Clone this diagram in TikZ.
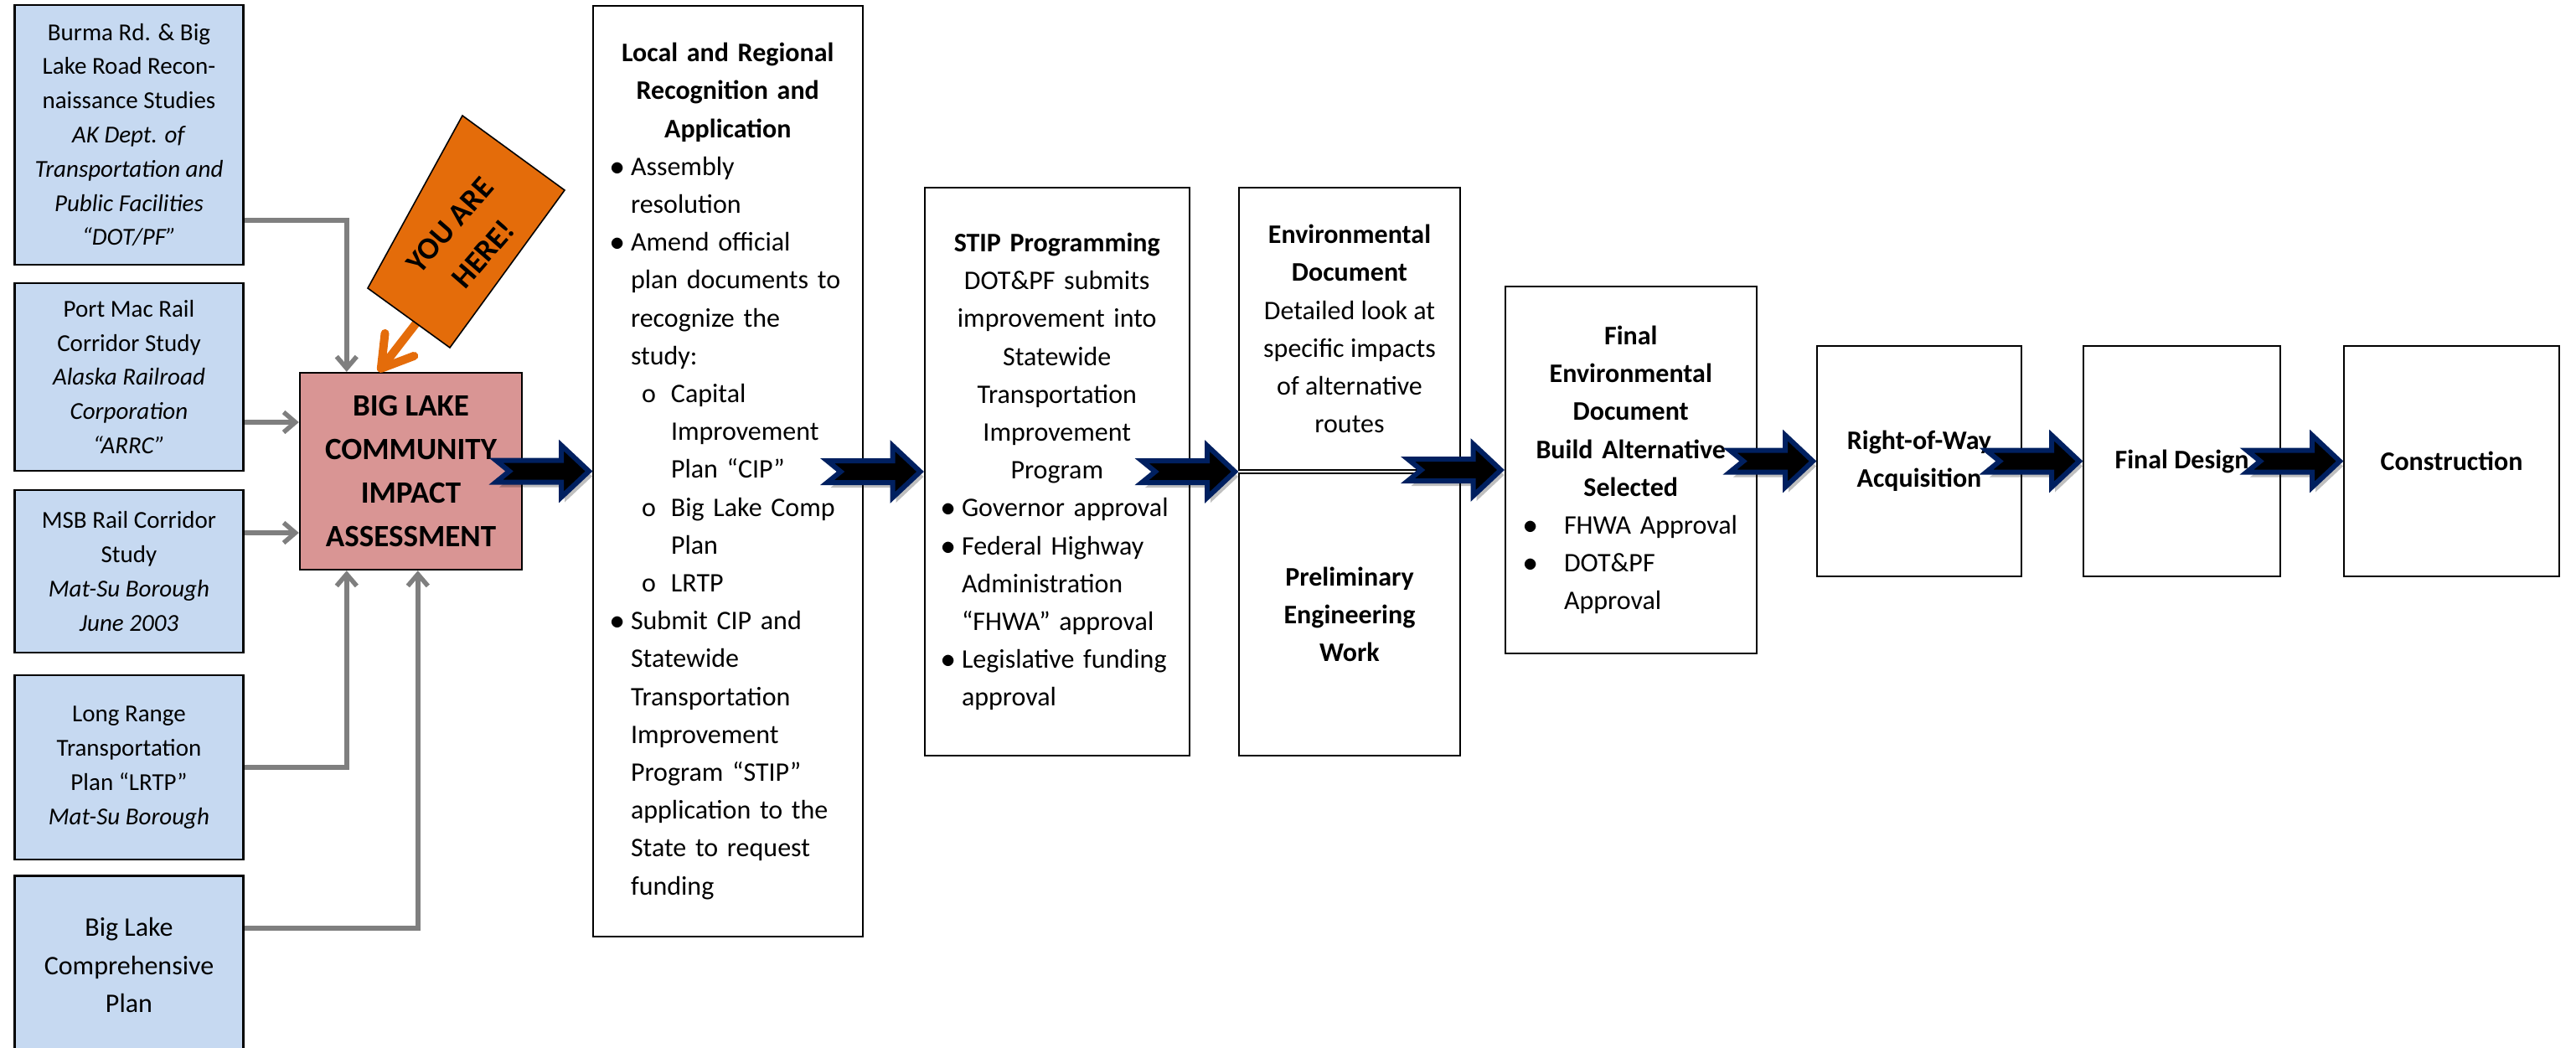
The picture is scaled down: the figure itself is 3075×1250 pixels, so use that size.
\documentclass[tikz,border=0pt]{standalone}
\usepackage{fontspec}
\setmainfont{Carlito}
\usepackage{tikz}
\usetikzlibrary{calc,shadows,arrows.meta}
\definecolor{studyblue}{HTML}{C6D9F1}
\definecolor{assessred}{HTML}{D99594}
\definecolor{hereorange}{HTML}{E46C0A}
\definecolor{arrownavy}{HTML}{002060}
\definecolor{feedgray}{HTML}{7F7F7F}
\setlength{\parindent}{0pt}
% bullet and sub-bullet columns
\newcommand{\listdot}[2]{\makebox[#2][l]{\hspace*{#1}$\bullet$}}
\newcommand{\listcirc}[2]{\makebox[#2][l]{\hspace*{#1}o}}
% notched block arrow ending at a stage box
\newcommand{\stagearrow}[2][115]{%
  \draw[blockarrow, shift={(#2)}] (-4,0) -- (-37,-31) -- (-37,-13) -- (-#1,-13)
    -- ({16-#1},0) -- (-#1,13) -- (-37,13) -- (-37,31) -- cycle;}

\begin{document}
\begin{tikzpicture}[x=0.5pt, y=-0.5pt,
    study/.style={draw, line width=1.3pt, fill=studyblue, minimum width=136.3pt,
      inner sep=0pt, align=center, font=\fontsize{14.5}{20.4}\selectfont},
    stage/.style={draw, line width=1pt, fill=white, inner sep=0pt,
      font=\fontsize{16}{22.6}\selectfont},
    feed/.style={draw=feedgray, line width=2.75pt, -{Straight Barb[length=7pt,width=12pt]}},
    pointer/.style={draw=hereorange, line width=5pt, line cap=round,
      -{Straight Barb[length=18pt,width=22pt,round]}},
    blockarrow/.style={fill=black, draw=arrownavy, line width=3pt,
      drop shadow={shadow xshift=2pt, shadow yshift=-3pt, fill=black, opacity=0.25}}]
  \useasboundingbox (0,0) rectangle (3075,1250);

  % Studies feeding the assessment
  \node[study, minimum height=155pt] (burma) at (154,161) {Burma Rd. \& Big\\Lake Road Recon-\\naissance Studies\\
    \textit{AK Dept. of}\\\textit{Transportation and}\\\textit{Public Facilities}\\\textit{“DOT/PF”}};
  \node[study, minimum height=112pt] (port) at (154,450) {Port Mac Rail\\Corridor Study\\
    \textit{Alaska Railroad}\\\textit{Corporation}\\\textit{“ARRC”}};
  \node[study, minimum height=97pt] (msb) at (154,682) {MSB Rail Corridor\\Study\\
    \textit{Mat-Su Borough}\\\textit{June 2003}};
  \node[study, minimum height=110pt] (lrtp) at (154,916) {Long Range\\Transportation\\Plan “LRTP”\\
    \textit{Mat-Su Borough}};
  \node[study, minimum height=106.5pt, font=\fontsize{16}{22.6}\selectfont] (comp) at (154,1152)
    {Big Lake\\Comprehensive\\Plan};

  % Assessment box
  \node[draw, line width=1.2pt, fill=assessred, minimum width=132.5pt, minimum height=117.5pt,
    align=center, font=\bfseries\fontsize{18.5}{26}\selectfont] (cia) at (490.5,562.5)
    {BIG LAKE\\COMMUNITY\\IMPACT\\ASSESSMENT};

  % Feeds
  \draw[feed] (burma.east |- 0,263) -| ($(cia.north west)+(57,0)$);
  \draw[feed] (port.east |- 0,504) -- (cia.west |- 0,504);
  \draw[feed] (msb.east |- 0,636) -- (cia.west |- 0,636);
  \draw[feed] (lrtp.east) -| ($(cia.south west)+(57,0)$);
  \draw[feed] (comp.east |- 0,1108) -| ($(cia.south west)+(142,0)$);

  % You are here
  \coordinate (h1) at (552,138);
  \coordinate (h2) at (674,227);
  \coordinate (h3) at (537,415);
  \coordinate (h4) at (439,344);
  \draw[pointer] ($(h4)!0.6!(h3)+(3,-6)$) -- ($(cia.north west)+(95,0)$);
  \draw[fill=hereorange, line width=0.8pt] (h1) -- (h2) -- (h3) -- (h4) -- cycle;
  \node[rotate=49, align=center, font=\bfseries\fontsize{18.5}{26.5}\selectfont] (here) at (557,286)
    {YOU ARE\\HERE!};

  % Stages
  \node[stage, text width=160.75pt, minimum height=555.5pt, align=left] (local) at (868.75,562.5) {%
    \makebox[160.75pt]{\bfseries Local and Regional}\\
    \makebox[160.75pt]{\bfseries Recognition and}\\
    \makebox[160.75pt]{\bfseries Application}\\
    \listdot{10pt}{22.5pt}Assembly\\
    \hspace*{22.5pt}resolution\\
    \listdot{10pt}{22.5pt}Amend official\\
    \hspace*{22.5pt}plan documents to\\
    \hspace*{22.5pt}recognize the\\
    \hspace*{22.5pt}study:\\
    \listcirc{29pt}{46.5pt}Capital\\
    \hspace*{46.5pt}Improvement\\
    \hspace*{46.5pt}Plan “CIP”\\
    \listcirc{29pt}{46.5pt}Big Lake Comp\\
    \hspace*{46.5pt}Plan\\
    \listcirc{29pt}{46.5pt}LRTP\\
    \listdot{10pt}{22.5pt}Submit CIP and\\
    \hspace*{22.5pt}Statewide\\
    \hspace*{22.5pt}Transportation\\
    \hspace*{22.5pt}Improvement\\
    \hspace*{22.5pt}Program “STIP”\\
    \hspace*{22.5pt}application to the\\
    \hspace*{22.5pt}State to request\\
    \hspace*{22.5pt}funding};
  \node[stage, text width=158.25pt, minimum height=339pt, align=left] (stip) at (1261.75,563) {%
    \makebox[158.25pt]{\bfseries STIP Programming}\\
    \makebox[158.25pt]{DOT\&PF submits}\\
    \makebox[158.25pt]{improvement into}\\
    \makebox[158.25pt]{Statewide}\\
    \makebox[158.25pt]{Transportation}\\
    \makebox[158.25pt]{Improvement}\\
    \makebox[158.25pt]{Program}\\
    \listdot{10pt}{22.25pt}Governor approval\\
    \listdot{10pt}{22.25pt}Federal Highway\\
    \hspace*{22.25pt}Administration\\
    \hspace*{22.25pt}“FHWA” approval\\
    \listdot{10pt}{22.25pt}Legislative funding\\
    \hspace*{22.25pt}approval};
  \node[stage, minimum width=132pt, minimum height=168.5pt, align=center] (envdoc) at (1611,392.5)
    {\textbf{Environmental}\\\textbf{Document}\\Detailed look at\\specific impacts\\of alternative\\routes};
  \node[stage, minimum width=132pt, minimum height=168.5pt, align=center, font=\bfseries\fontsize{16}{22.6}\selectfont]
    (prelim) at (1611,733.5) {Preliminary\\Engineering\\Work};
  \node[stage, text width=150.25pt, minimum height=219pt, align=left] (final) at (1946.75,561) {%
    \makebox[150.25pt]{\bfseries Final}\\
    \makebox[150.25pt]{\bfseries Environmental}\\
    \makebox[150.25pt]{\bfseries Document}\\
    \makebox[150.25pt]{\bfseries Build Alternative}\\
    \makebox[150.25pt]{\bfseries Selected}\\
    \listdot{11pt}{35.25pt}FHWA Approval\\
    \listdot{11pt}{35.25pt}DOT\&PF\\
    \hspace*{35.25pt}Approval};
  \node[stage, minimum width=122pt, minimum height=137.5pt, align=center, font=\bfseries\fontsize{16}{22.6}\selectfont]
    (row) at (2291,550.5) {Right-of-Way\\Acquisition};
  \node[stage, minimum width=117.5pt, minimum height=137.5pt, font=\bfseries\fontsize{16}{22.6}\selectfont]
    (design) at (2604.5,550.5) {Final Design};
  \node[stage, minimum width=128.5pt, minimum height=137.5pt, font=\bfseries\fontsize{16}{22.6}\selectfont]
    (build) at (2926.5,550.5) {Construction};

  % Block arrows between stages
  \stagearrow{local.west}
  \stagearrow{stip.west}
  \stagearrow{$(envdoc.south west)!0.5!(prelim.north west)$}
  \stagearrow{final.west}
  \stagearrow[103]{row.west}
  \stagearrow{design.west}
  \stagearrow{build.west}
\end{tikzpicture}
\end{document}
